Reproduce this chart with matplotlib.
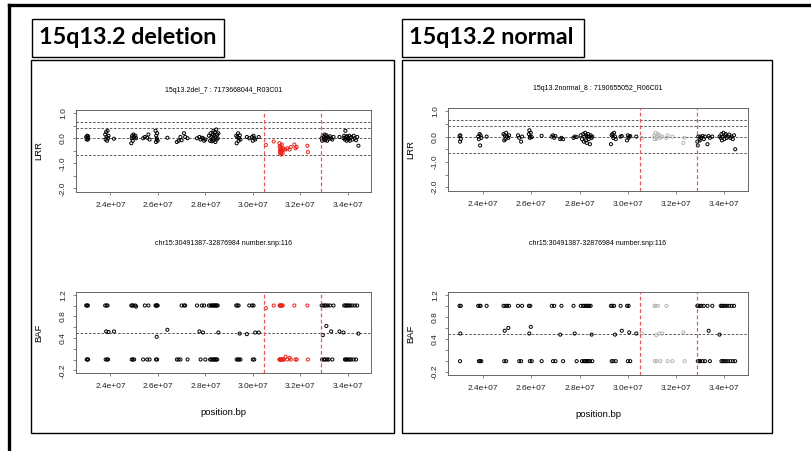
import matplotlib
matplotlib.use("Agg")
import matplotlib.pyplot as plt
import matplotlib.patches as patches
import numpy as np

plt.rcParams['font.family'] = ['Liberation Sans', 'DejaVu Sans']

W, H = 811, 451

# region of interest (bp)
region_start = 30491387
region_end = 32876984

panel_titles = ["15q13.2 deletion", "15q13.2 normal"]
sample_titles = ["15q13.2del_7 : 7173668044_R03C01", "15q13.2normal_8 : 7190655052_R06C01"]
region_title = "chr15:30491387-32876984 number.snp:116"

# SNPs of the deletion sample: (position Mb, LRR, BAF)
del_snps = [
    (22.98, 0.05, 1), (23.00, -0.05, 0), (23.02, 0.10, 1), (23.03, 0.00, 0), (23.05, -0.05, 1), (23.06, 0.08, 0),
    (23.78, 0.15, 1), (23.80, -0.05, 0), (23.82, 0.25, 0.52), (23.84, 0.05, 1), (23.86, -0.10, 0), (23.88, 0.30, 1),
    (23.90, 0.00, 0), (23.92, 0.10, 0.51), (24.15, -0.02, 0.52),
    (24.88, -0.20, 1), (24.90, 0.00, 0), (24.92, 0.10, 1), (24.94, -0.10, 0), (24.97, 0.15, 1), (25.00, 0.05, 0),
    (25.05, 0.10, 1), (25.08, 0.00, 0.98), (25.38, 0.00, 0), (25.45, 0.05, 1), (25.55, 0.02, 0), (25.60, 0.15, 1),
    (25.65, -0.05, 0), (25.90, 0.30, 1), (25.92, -0.15, 0), (25.93, 0.10, 1), (25.95, 0.00, 0.42), (25.96, -0.05, 1),
    (25.97, 0.20, 0), (25.99, -0.10, 1), (26.40, 0.02, 0.55), (26.80, -0.15, 0), (26.87, -0.10, 0), (26.95, 0.05, 0),
    (27.00, -0.08, 1), (27.10, 0.20, 1), (27.15, 0.05, 1), (27.25, 0.00, 0),
    (27.65, 0.00, 1), (27.75, 0.05, 0.52), (27.80, -0.05, 0), (27.85, 0.02, 1), (27.90, 0.00, 0.50), (27.95, -0.10, 1),
    (28.00, -0.05, 0), (28.15, 0.10, 1), (28.20, -0.10, 0), (28.22, 0.20, 1), (28.25, 0.05, 0), (28.27, -0.12, 1),
    (28.30, 0.15, 0), (28.32, 0.00, 1), (28.34, 0.30, 0), (28.36, -0.08, 1), (28.38, 0.10, 0), (28.40, 0.25, 1),
    (28.42, -0.15, 0), (28.44, 0.05, 1), (28.46, 0.35, 0), (28.48, -0.05, 1), (28.50, 0.15, 0), (28.52, 0.00, 1),
    (28.55, 0.20, 0.50),
    (29.30, 0.10, 1), (29.32, -0.20, 0), (29.35, 0.05, 1), (29.38, 0.20, 0), (29.40, -0.10, 1), (29.42, 0.00, 0),
    (29.45, 0.12, 0.48), (29.48, -0.05, 0), (29.75, 0.05, 0.47), (29.85, 0.00, 1),
    (29.97, 0.05, 1), (30.00, -0.10, 0), (30.03, 0.10, 1), (30.06, 0.00, 0), (30.10, -0.05, 0.50), (30.25, 0.05, 0.50),
    (30.55, -0.27, 0.95), (30.88, -0.13, 1), (31.12, -0.20, 0), (31.13, -0.35, 1), (31.14, -0.50, 0), (31.15, -0.60, 1),
    (31.16, -0.30, 0), (31.17, -0.45, 1), (31.18, -0.55, 0), (31.19, -0.40, 1), (31.20, -0.65, 0), (31.22, -0.25, 1),
    (31.24, -0.50, 0), (31.26, -0.60, 1), (31.28, -0.40, 0), (31.30, -0.45, 0), (31.38, -0.45, 0.05), (31.45, -0.40, 0),
    (31.55, -0.45, 0.03), (31.60, -0.35, 0), (31.75, -0.25, 1), (31.80, -0.40, 0), (31.85, -0.35, 0), (32.30, -0.30, 1),
    (32.32, -0.55, 0),
    (32.90, 0.00, 1), (32.92, -0.10, 0), (32.95, 0.10, 0.45), (32.97, -0.05, 1), (33.00, 0.05, 0), (33.03, 0.15, 1),
    (33.05, -0.08, 0), (33.08, 0.00, 1), (33.10, 0.12, 0.62), (33.13, -0.10, 0), (33.16, 0.05, 1), (33.20, -0.02, 0),
    (33.25, 0.08, 1), (33.30, 0.00, 0.52), (33.35, -0.05, 0), (33.40, 0.05, 1), (33.65, 0.05, 0.52),
    (33.82, 0.00, 0.50), (33.85, 0.10, 1), (33.88, -0.05, 0), (33.90, 0.30, 1), (33.92, 0.05, 0), (33.95, -0.10, 1),
    (33.97, 0.08, 0), (34.00, 0.00, 1), (34.03, -0.05, 0), (34.06, 0.10, 1), (34.09, -0.10, 0), (34.12, 0.02, 1),
    (34.15, 0.05, 0), (34.20, -0.05, 1), (34.25, 0.10, 0), (34.30, 0.00, 1), (34.35, -0.08, 0), (34.40, 0.05, 1),
    (34.45, -0.30, 0.48),
]

# SNPs of the normal sample: (position Mb, LRR, BAF)
norm_snps = [
    (23.03, 0.02, 1), (23.05, -0.20, 0), (23.06, 0.05, 0.50), (23.08, -0.10, 1),
    (23.80, 0.00, 1), (23.83, -0.10, 0), (23.86, 0.10, 1), (23.88, -0.35, 0), (23.90, 0.05, 1), (23.93, -0.05, 0),
    (24.15, 0.00, 1), (24.85, 0.10, 1), (24.88, -0.15, 0), (24.90, 0.05, 0.55), (24.93, -0.10, 1), (24.96, 0.15, 0),
    (25.00, 0.00, 1), (25.05, -0.05, 0.60), (25.08, 0.05, 1), (25.45, 0.05, 1), (25.50, -0.05, 0), (25.58, -0.20, 0),
    (25.62, 0.00, 1), (25.90, 0.10, 1), (25.92, 0.25, 0.50), (25.94, -0.05, 0), (25.96, 0.00, 1), (25.98, 0.15, 0.62),
    (26.02, -0.02, 0), (26.43, 0.03, 0), (26.85, 0.00, 1), (26.90, 0.05, 0), (26.95, -0.05, 1), (27.00, 0.02, 0),
    (27.20, -0.10, 0.48), (27.25, -0.05, 1), (27.32, -0.10, 0), (27.75, -0.05, 1), (27.80, 0.00, 0.50), (27.88, -0.02, 0),
    (28.05, 0.05, 1), (28.10, -0.10, 0), (28.15, 0.10, 1), (28.18, -0.20, 0), (28.20, 0.00, 1), (28.23, 0.15, 0),
    (28.26, -0.15, 1), (28.28, 0.05, 0), (28.30, -0.25, 1), (28.33, 0.00, 0), (28.36, 0.10, 1), (28.38, -0.10, 0),
    (28.40, 0.00, 1), (28.43, -0.30, 0), (28.46, 0.05, 1), (28.50, -0.05, 0.48), (28.53, 0.00, 0),
    (29.30, -0.30, 1), (29.33, 0.05, 0), (29.36, 0.10, 1), (29.40, -0.05, 0), (29.43, 0.15, 1), (29.47, 0.00, 0.48),
    (29.50, -0.10, 0), (29.70, 0.00, 1), (29.75, 0.02, 0.55), (29.97, -0.15, 1), (30.00, 0.05, 0), (30.03, -0.05, 1),
    (30.06, 0.00, 0.52), (30.10, 0.02, 0), (30.35, 0.00, 0.50),
    (30.58, -0.05, 0.50), (31.10, 0.05, 1), (31.12, -0.10, 0), (31.15, 0.15, 1), (31.18, 0.00, 0.47), (31.20, -0.08, 0),
    (31.25, 0.10, 1), (31.30, 0.05, 0.50), (31.35, -0.05, 0), (31.42, 0.00, 0.50), (31.60, -0.05, 1), (31.65, 0.05, 0),
    (31.85, 0.00, 0), (32.30, -0.25, 0.52), (32.35, -0.05, 0),
    (32.88, -0.20, 1), (32.90, -0.35, 0), (32.92, 0.00, 1), (32.95, -0.10, 0), (32.98, -0.15, 1), (33.00, 0.00, 0),
    (33.05, -0.05, 1), (33.10, 0.02, 0), (33.15, -0.10, 1), (33.20, 0.00, 0), (33.30, -0.30, 1), (33.35, 0.02, 0.55),
    (33.40, -0.05, 0), (33.50, 0.00, 1), (33.80, 0.00, 0.48), (33.85, -0.05, 1), (33.88, 0.10, 0), (33.90, -0.15, 1),
    (33.93, 0.00, 0), (33.96, 0.15, 1), (34.00, -0.10, 0), (34.03, 0.05, 1), (34.06, 0.10, 0), (34.10, -0.05, 1),
    (34.15, 0.00, 0), (34.20, 0.08, 1), (34.25, -0.05, 0), (34.30, 0.00, 1), (34.35, -0.10, 0), (34.40, 0.05, 1),
    (34.45, -0.50, 0),
]

del_pos, del_lrr, del_baf = [np.array(v, dtype=float) for v in zip(*del_snps)]
norm_pos, norm_lrr, norm_baf = [np.array(v, dtype=float) for v in zip(*norm_snps)]
del_pos = del_pos * 1e6
norm_pos = norm_pos * 1e6

lrr_lines = [0.66, 0.4, 0.0, -0.66]
x_ticks = [2.4e7, 2.6e7, 2.8e7, 3.0e7, 3.2e7, 3.4e7]
x_labels = ["2.4e+07", "2.6e+07", "2.8e+07", "3.0e+07", "3.2e+07", "3.4e+07"]
lrr_ticks = [1.0, 0.5, 0.0, -0.5, -1.0, -1.5, -2.0]
lrr_labels = ["1.0", "", "0.0", "", "-1.0", "", "-2.0"]
baf_ticks = [1.2, 1.0, 0.8, 0.6, 0.4, 0.2, 0.0, -0.2]
baf_labels = ["1.2", "", "0.8", "", "0.4", "", "", "-0.2"]

fig = plt.figure(figsize=(W / 100, H / 100), dpi=100)


def px_axes(x0, y0, x1, y1):
    return fig.add_axes([x0 / W, 1 - y1 / H, (x1 - x0) / W, (y1 - y0) / H])


def px_rect(x0, y0, x1, y1, lw):
    fig.patches.append(patches.Rectangle((x0 / W, 1 - y1 / H), (x1 - x0) / W, (y1 - y0) / H,
                                         transform=fig.transFigure, fill=False, edgecolor='black',
                                         linewidth=lw, zorder=0))


def style_axes(ax, yticks, ylabels):
    ax.set_xlim(2.255e7, 3.498e7)
    ax.set_xticks(x_ticks)
    ax.set_xticklabels(x_labels, fontsize=6)
    ax.set_yticks(yticks)
    ax.set_yticklabels(ylabels, fontsize=6, rotation=90, va='center')
    ax.tick_params(axis='x', length=2.5, width=0.5, color='#555555', pad=5, labelcolor='#222222')
    ax.tick_params(axis='y', length=2.5, width=0.5, color='#555555', pad=4, labelcolor='#222222')
    for s in ax.spines.values():
        s.set_color('#666666')
        s.set_linewidth(0.7)
    for v in (region_start, region_end):
        ax.axvline(v, color='#e35a5a', linestyle=(0, (3, 2)), linewidth=0.9, zorder=4)


def point_colors(pos, inside):
    return [inside if region_start <= p <= region_end else 'black' for p in pos]


# outer frame
fig.add_artist(plt.Line2D([9 / W, 9 / W], [0, 1 - 5 / H], color='black', linewidth=2.4, transform=fig.transFigure))
fig.add_artist(plt.Line2D([9 / W, 1], [1 - 5 / H, 1 - 5 / H], color='black', linewidth=2.4, transform=fig.transFigure))

panels = [
    dict(frame=(31, 60, 394, 433), box=(32, 19, 224, 57), lrr_ax=(76, 110, 371, 192), baf_ax=(76, 292, 371, 373),
         pos=del_pos, lrr=del_lrr, baf=del_baf, inside='#e8231a'),
    dict(frame=(402, 60, 772, 433), box=(402, 19, 584, 57), lrr_ax=(448, 108, 748, 191), baf_ax=(448, 292, 748, 375),
         pos=norm_pos, lrr=norm_lrr, baf=norm_baf, inside='#b4b4b4'),
]

for i, p in enumerate(panels):
    px_rect(*p['frame'], 1.0)
    px_rect(*p['box'], 1.0)
    bx0, by0, bx1, by1 = p['box']
    fig.text((bx0 + 7) / W, 1 - (by0 + by1) / 2 / H, panel_titles[i], fontsize=16.8, fontweight='bold',
             family='Lato', ha='left', va='center')

    cols = point_colors(p['pos'], p['inside'])

    ax = px_axes(*p['lrr_ax'])
    for v in lrr_lines:
        ax.axhline(v, color='#444444', linestyle=(0, (3, 2)), linewidth=0.6)
    ax.scatter(p['pos'], p['lrr'], s=5, facecolors='none', edgecolors=cols, linewidths=0.7, zorder=3)
    ax.set_ylim(-2.15, 1.13)
    style_axes(ax, lrr_ticks, lrr_labels)
    ax.set_ylabel("LRR", fontsize=6.8, labelpad=12)
    ax.set_title(sample_titles[i], fontsize=5, pad=13)

    ax2 = px_axes(*p['baf_ax'])
    ax2.axhline(0.5, color='#444444', linestyle=(0, (3, 2)), linewidth=0.6)
    ax2.scatter(p['pos'], p['baf'], s=5, facecolors='none', edgecolors=cols, linewidths=0.7, zorder=3)
    ax2.set_ylim(-0.25, 1.25)
    style_axes(ax2, baf_ticks, baf_labels)
    ax2.set_ylabel("BAF", fontsize=6.8, labelpad=12)
    ax2.set_xlabel("position.bp", fontsize=6.8, labelpad=13)
    ax2.set_title(region_title, fontsize=5, pad=34)

fig.savefig("out.png", dpi=100)
